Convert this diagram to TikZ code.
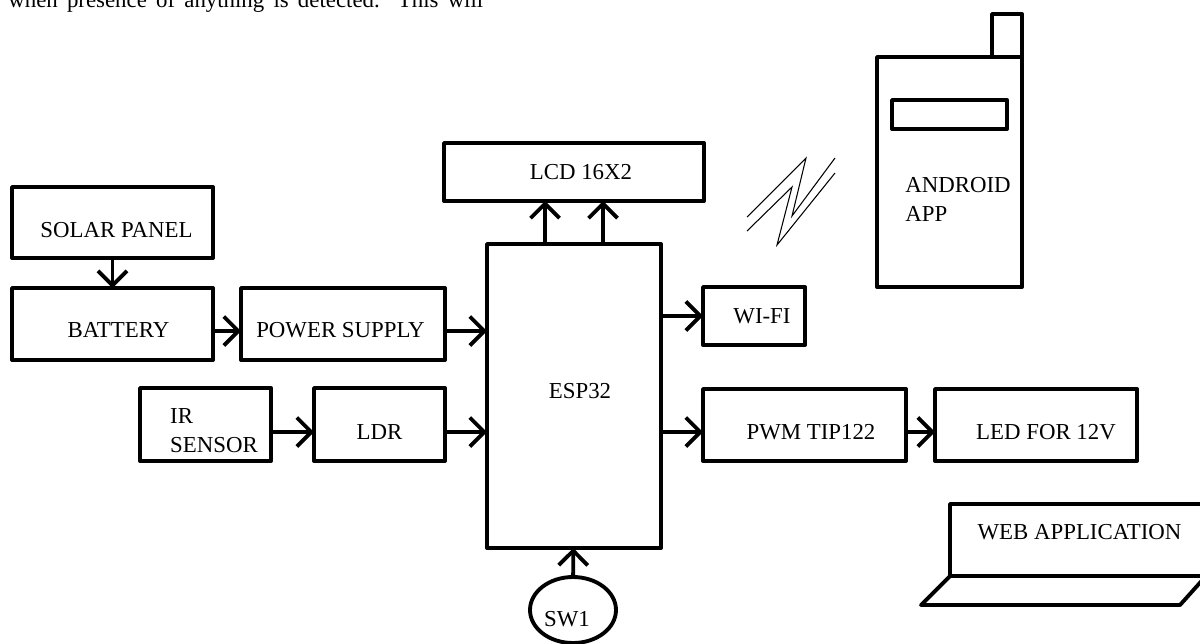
\documentclass[tikz,border=0pt]{standalone}
\usepackage{fontspec}
\setmainfont{Liberation Serif}
\usetikzlibrary{arrows.meta,calc,shapes.geometric}
\tikzset{
  wh/.style 2 args={minimum width=#1*0.02cm,minimum height=#2*0.02cm},
  txt/.style={inner sep=0pt,font=\fontsize{13}{16.5}\selectfont},
  box/.style={txt,draw=black,line width=2.2pt,outer sep=0pt,fill=white,line join=round},
  oval/.style={box,ellipse},
  arrow/.style={-{Straight Barb[length=2.9mm,width=5.8mm,line width=2.2pt]},line width=2.2pt,color=black},
  wave/.style={line width=0.6pt,black},
  heavy/.style={line width=2.2pt,black,line join=round},
}
% moves a box text off its centre (right, down; in picture pixels)
\newcommand{\nudge}[3]{\hspace*{\dimexpr #1pt*1138/1000\relax}\raisebox{\dimexpr -#2pt*569/1000\relax}[\height][\depth]{#3}}
\begin{document}
\begin{tikzpicture}[x=0.02cm,y=-0.02cm]
    \useasboundingbox (0,0) rectangle (1200,643);
    \node[txt,anchor=base west] (para) at (8,7.5) {\makebox[9.5cm][s]{when presence of anything is detected. This will}};
    % left column
    \node[box,wh={201}{71}] (solar) at (112.5,222.5) {\nudge{4}{7.5}{SOLAR PANEL}};
    \node[box,wh={201}{72}] (battery) at (112.5,324) {\nudge{6}{6}{BATTERY}};
    \node[box,wh={204}{72}] (power) at (343,324) {\nudge{-2.5}{6}{POWER SUPPLY}};
    \node[box,wh={131}{73}] (ir) at (205.5,424.5) {\nudge{8.5}{8}{\begin{tabular}{@{}l@{}}IR\\SENSOR\end{tabular}}};
    \node[box,wh={131}{73}] (ldr) at (379.5,424.5) {\nudge{0}{7.5}{LDR}};
    % controller
    \node[box,wh={174}{304}] (esp) at (574,396) {\nudge{6}{-5}{ESP32}};
    \node[box,wh={260}{58}] (lcd) at (574,172) {\nudge{7}{0}{LCD 16X2}};
    \node[box,wh={102}{58}] (wifi) at (754,316) {\nudge{8}{0}{WI-FI}};
    \node[box,wh={203}{72}] (pwm) at (804.5,425) {\nudge{6.5}{7}{PWM TIP122}};
    \node[box,wh={202}{72}] (led) at (1036,425) {\nudge{10}{7}{LED FOR 12V}};
    \node[oval,wh={86}{66}] (sw) at (573,610) {\nudge{-6}{9}{SW1}};
    % phone
    \node[box,wh={30}{43}] (antenna) at (1007,35.5) {};
    \node[box,wh={145}{230}] (phone) at (949.5,172) {\nudge{8.5}{29}{\begin{tabular}{@{}l@{}}ANDROID\\APP\end{tabular}}};
    \node[box,wh={115}{29}] (screen) at (949.5,114.5) {};
    % radio link
    \draw[wave] (747,217) -- (806,158) -- (792,216) -- (835,158);
    \draw[wave] (747,231) -- (792,187) -- (777,245) -- (835,173);
    % laptop
    \draw[heavy] (1206,504) -- (950,504) -- (950,576) -- (1206,576);
    \draw[heavy] (950,576) -- (921,605) -- (1180,605) -- (1206,576);
    \node[txt] (web) at (1079.5,532) {WEB APPLICATION};
    % connectors
    \draw[arrow] (solar) -- (battery);
    \draw[arrow] ($(battery.east)+(0,7)$) -- ($(power.west)+(0,7)$);
    \draw[arrow] ($(power.east)+(0,7)$) -- ($(esp.west|-power.east)+(0,7)$);
    \draw[arrow] ($(ir.east)+(0,7.5)$) -- ($(ldr.west)+(0,7.5)$);
    \draw[arrow] ($(ldr.east)+(0,7.5)$) -- ($(esp.west|-ldr.east)+(0,7.5)$);
    \draw[arrow] (sw) -- (esp);
    \draw[arrow] ($(esp.north)+(-29,0)$) -- ($(lcd.south)+(-29,0)$);
    \draw[arrow] ($(esp.north)+(29,0)$) -- ($(lcd.south)+(29,0)$);
    \draw[arrow] (esp.east|-wifi.west) -- (wifi.west);
    \draw[arrow] ($(esp.east|-pwm.west)+(0,7)$) -- ($(pwm.west)+(0,7)$);
    \draw[arrow] ($(pwm.east)+(0,7)$) -- ($(led.west)+(0,7)$);
  \end{tikzpicture}
\end{document}
